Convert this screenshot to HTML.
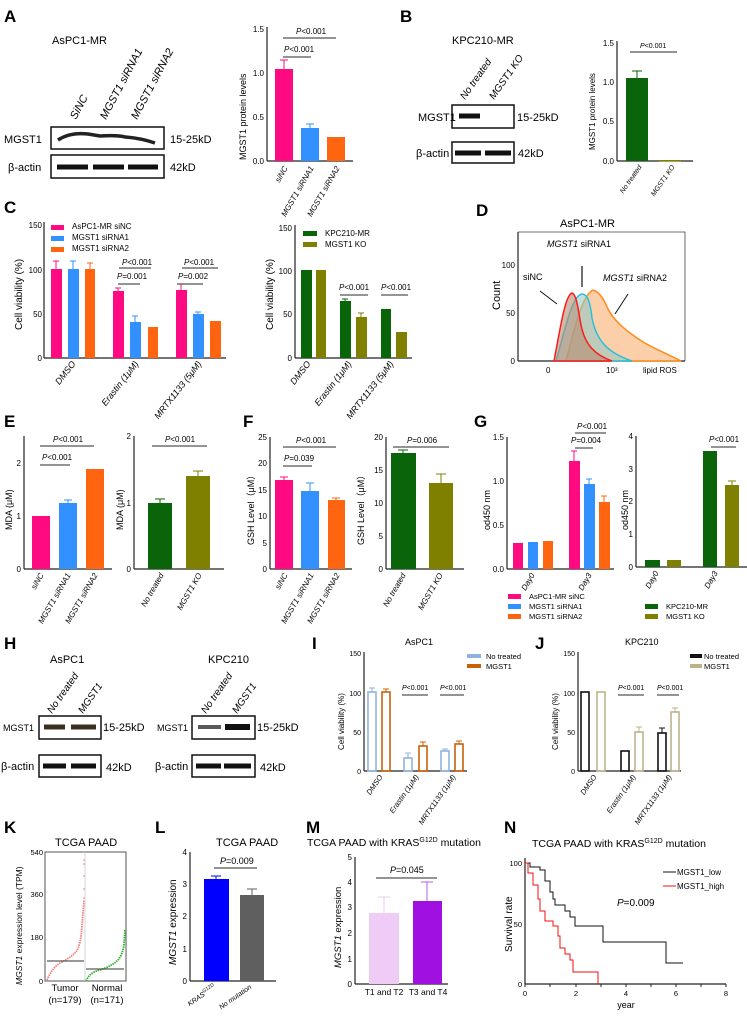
<!DOCTYPE html>
<html><head><meta charset="utf-8"><style>
html,body{margin:0;padding:0;background:#fff;}
svg{display:block;font-family:"Liberation Sans",sans-serif;}
.t{font-size:8px;}
.b{font-weight:bold;font-size:17px;}
.h{font-size:11px;}
.ax{stroke:#222;stroke-width:1.2;fill:none;}
.p{stroke:#555;stroke-width:1.2;}
.e{stroke-width:1;fill:none;}
</style></head><body>
<svg width="747" height="1016" viewBox="0 0 747 1016" xmlns="http://www.w3.org/2000/svg">
<!-- A -->
<text x="4" y="22" class="b">A</text>
<text x="52" y="44" class="h">AsPC1-MR</text>
<g class="h" font-style="italic" font-size="10">
<text transform="translate(76,120) rotate(-62)">SiNC</text>
<text transform="translate(106,120) rotate(-62)">MGST1 siRNA1</text>
<text transform="translate(137,120) rotate(-62)">MGST1 siRNA2</text>
</g>
<rect x="51" y="127" width="113" height="22" fill="#fff" stroke="#111" stroke-width="1.5"/>
<path d="M58,140 Q70,132 88,134 L100,136 Q118,135 125,137 Q140,138 155,143" stroke="#222" stroke-width="3.5" fill="none"/>
<rect x="51" y="155" width="113" height="23" fill="#fff" stroke="#111" stroke-width="1.5"/>
<path d="M57,167 H88 M93,167 H124 M128,167 H158" stroke="#111" stroke-width="5"/>
<text x="4" y="143" class="h">MGST1</text><text x="8" y="171" class="h">β-actin</text>
<text x="170" y="143" class="h">15-25kD</text><text x="170" y="171" class="h">42kD</text>
<line x1="267" y1="27" x2="267" y2="161" class="ax"/><line x1="267" y1="161" x2="353" y2="161" class="ax"/>
<g class="t" text-anchor="end"><text x="264" y="32">1.5</text><text x="264" y="76">1.0</text><text x="264" y="120">0.5</text><text x="264" y="164">0.0</text></g>
<text transform="translate(246,160) rotate(-90)" font-size="9">MGST1 protein levels</text>
<rect x="275" y="69" width="18" height="92" fill="#FF0A80"/><path d="M284,69V60M280,60H288" class="e" stroke="#FF0A80"/>
<rect x="301" y="128" width="18" height="33" fill="#3391FF"/><path d="M310,128V124M306,124H314" class="e" stroke="#3391FF"/>
<rect x="327" y="137" width="18" height="24" fill="#FF6410"/>
<line x1="283" y1="38" x2="336" y2="38" class="p"/><text x="296" y="34" class="t"><tspan font-style="italic">P</tspan>&lt;0.001</text>
<line x1="283" y1="57" x2="311" y2="57" class="p"/><text x="284" y="52" class="t"><tspan font-style="italic">P</tspan>&lt;0.001</text>
<g class="t" font-style="italic"><text transform="translate(288,168) rotate(-60)" text-anchor="end">siNC</text><text transform="translate(314,168) rotate(-60)" text-anchor="end">MGST1 siRNA1</text><text transform="translate(340,168) rotate(-60)" text-anchor="end">MGST1 siRNA2</text></g>
<!-- B -->
<text x="400" y="22" class="b">B</text>
<text x="452" y="44" class="h">KPC210-MR</text>
<g font-style="italic" font-size="10"><text transform="translate(465,100) rotate(-55)">No treated</text><text transform="translate(494,100) rotate(-55)">MGST1 KO</text></g>
<rect x="452" y="105" width="62" height="23" fill="#fff" stroke="#111" stroke-width="1.5"/>
<path d="M459,116 H480" stroke="#111" stroke-width="5"/>
<rect x="452" y="142" width="62" height="21" fill="#fff" stroke="#111" stroke-width="1.5"/>
<path d="M455,153 H481 M485,153 H511" stroke="#111" stroke-width="5"/>
<text x="418" y="121" class="h" font-size="10">MGST1</text><text x="416" y="157" class="h">β-actin</text>
<text x="517" y="121" class="h">15-25kD</text><text x="518" y="157" class="h">42kD</text>
<line x1="617" y1="41" x2="617" y2="161" class="ax"/><line x1="617" y1="161" x2="693" y2="161" class="ax"/>
<g class="t" text-anchor="end"><text x="614" y="46">1.5</text><text x="614" y="85">1.0</text><text x="614" y="124">0.5</text><text x="614" y="164">0.0</text></g>
<text transform="translate(595,150) rotate(-90)" font-size="8">MGST1 protein levels</text>
<rect x="626" y="78" width="22" height="83" fill="#0A640A"/><path d="M637,78V71M632,71H642" class="e" stroke="#0A640A"/>
<rect x="659" y="160" width="22" height="1.5" fill="#7F7F00"/>
<line x1="630" y1="52" x2="677" y2="52" class="p"/><text x="640" y="48" font-size="7"><tspan font-style="italic">P</tspan>&lt;0.001</text>
<g font-size="7" font-style="italic"><text transform="translate(642,167) rotate(-55)" text-anchor="end">No treated</text><text transform="translate(675,167) rotate(-55)" text-anchor="end">MGST1 KO</text></g>
<!-- C -->
<text x="4" y="213" class="b">C</text>
<line x1="44" y1="222" x2="44" y2="358" class="ax"/><line x1="44" y1="358" x2="226" y2="358" class="ax"/>
<g class="t" text-anchor="end"><text x="42" y="228">150</text><text x="42" y="273">100</text><text x="42" y="317">50</text><text x="42" y="361">0</text></g>
<text transform="translate(22,330) rotate(-90)" font-size="10">Cell viability (%)</text>
<rect x="51" y="225" width="13" height="5" fill="#FF0A80"/><rect x="51" y="236" width="13" height="5" fill="#3391FF"/><rect x="51" y="247" width="13" height="5" fill="#FF6410"/>
<g class="t"><text x="72" y="229">AsPC1-MR siNC</text><text x="72" y="240">MGST1 siRNA1</text><text x="72" y="251">MGST1 siRNA2</text></g>
<g>
<rect x="51" y="269" width="11" height="89" fill="#FF0A80"/><rect x="68" y="269" width="11" height="89" fill="#3391FF"/><rect x="85" y="269" width="10" height="89" fill="#FF6410"/>
<path d="M56,269V261M53,261H59" class="e" stroke="#FF0A80"/><path d="M73,269V261M70,261H76" class="e" stroke="#3391FF"/><path d="M90,269V263M87,263H93" class="e" stroke="#FF6410"/>
<rect x="113" y="291" width="11" height="67" fill="#FF0A80"/><rect x="130" y="322" width="11" height="36" fill="#3391FF"/><rect x="148" y="327" width="10" height="31" fill="#FF6410"/>
<path d="M118,291V288M115,288H121" class="e" stroke="#FF0A80"/><path d="M135,322V316M132,316H138" class="e" stroke="#3391FF"/>
<rect x="176" y="290" width="11" height="68" fill="#FF0A80"/><rect x="193" y="314" width="11" height="44" fill="#3391FF"/><rect x="210" y="321" width="11" height="37" fill="#FF6410"/>
<path d="M181,290V284M178,284H184" class="e" stroke="#FF0A80"/><path d="M198,314V312M195,312H201" class="e" stroke="#3391FF"/>
</g>
<line x1="119" y1="268" x2="151" y2="268" class="p"/><text x="122" y="265" class="t"><tspan font-style="italic">P</tspan>&lt;0.001</text>
<line x1="118" y1="284" x2="140" y2="284" class="p"/><text x="117" y="279" class="t"><tspan font-style="italic">P</tspan>=0.001</text>
<line x1="182" y1="268" x2="218" y2="268" class="p"/><text x="184" y="265" class="t"><tspan font-style="italic">P</tspan>&lt;0.001</text>
<line x1="177" y1="284" x2="203" y2="284" class="p"/><text x="178" y="279" class="t"><tspan font-style="italic">P</tspan>=0.002</text>
<g font-size="9" font-style="italic" text-anchor="end"><text transform="translate(76,364) rotate(-52)">DMSO</text><text transform="translate(139,364) rotate(-52)">Erastin (1μM)</text><text transform="translate(202,364) rotate(-52)">MRTX1133 (5μM)</text></g>
<line x1="295" y1="225" x2="295" y2="358" class="ax"/><line x1="295" y1="358" x2="412" y2="358" class="ax"/>
<g class="t" text-anchor="end"><text x="292" y="231">150</text><text x="292" y="274">100</text><text x="292" y="317">50</text><text x="292" y="361">0</text></g>
<text transform="translate(273,330) rotate(-90)" font-size="10">Cell viability (%)</text>
<rect x="303" y="231" width="14" height="5" fill="#0A640A"/><rect x="303" y="242" width="14" height="5" fill="#7F7F00"/>
<g class="t"><text x="325" y="236">KPC210-MR</text><text x="325" y="247">MGST1 KO</text></g>
<rect x="301" y="270" width="11" height="88" fill="#0A640A"/><rect x="316" y="270" width="10" height="88" fill="#7F7F00"/>
<rect x="340" y="301" width="11" height="57" fill="#0A640A"/><rect x="356" y="317" width="11" height="41" fill="#7F7F00"/>
<path d="M345,301V299M342,299H348" class="e" stroke="#0A640A"/><path d="M361,317V313M358,313H364" class="e" stroke="#7F7F00"/>
<rect x="381" y="309" width="10" height="49" fill="#0A640A"/><rect x="396" y="332" width="11" height="26" fill="#7F7F00"/>
<line x1="340" y1="295" x2="368" y2="295" class="p"/><text x="339" y="290" class="t"><tspan font-style="italic">P</tspan>&lt;0.001</text>
<line x1="381" y1="295" x2="408" y2="295" class="p"/><text x="381" y="290" class="t"><tspan font-style="italic">P</tspan>&lt;0.001</text>
<g font-size="9" font-style="italic" text-anchor="end"><text transform="translate(311,364) rotate(-52)">DMSO</text><text transform="translate(352,364) rotate(-52)">Erastin (1μM)</text><text transform="translate(394,364) rotate(-52)">MRTX1133 (5μM)</text></g>
<!-- D -->
<text x="476" y="216" class="b">D</text>
<text x="560" y="227" class="h">AsPC1-MR</text>
<path d="M518,232 H685 V361" fill="none" stroke="#444" stroke-width="0.8"/>
<line x1="518" y1="232" x2="518" y2="361" class="ax" stroke-width="0.8"/><line x1="518" y1="361" x2="685" y2="361" class="ax" stroke-width="0.8"/>
<g class="t" text-anchor="end" font-size="9"><text x="515" y="268">100</text><text x="515" y="316">50</text><text x="515" y="364">0</text></g>
<text transform="translate(500,310) rotate(-90)" font-size="11">Count</text>
<path d="M565,361 C570,330 575,300 584,294 C590,293 595,300 598,310 C603,325 610,338 620,345 C630,352 640,356 665,360 L680,361 Z" fill="rgba(255,140,30,0.0)"/>
<path d="M566,361 C574,330 582,295 593,290 C600,292 604,300 607,307 C613,320 625,330 640,340 C652,348 664,352 681,361 Z" fill="#F9C79A" stroke="#FF8C1A" stroke-width="1.5" fill-opacity="0.85"/>
<path d="M556,361 C565,330 572,295 582,294 C587,294 590,300 592,318 C596,338 605,352 632,361 Z" fill="#8CC9C9" fill-opacity="0.55" stroke="#2CC0D8" stroke-width="1.5"/>
<path d="M554,361 C560,330 565,295 572,293 C577,295 578,310 581,325 C585,345 595,355 612,361 Z" fill="#B58A72" fill-opacity="0.6" stroke="#FF1A1A" stroke-width="1.5"/>
<text x="547" y="247" font-size="9"><tspan font-style="italic">MGST1</tspan> siRNA1</text>
<text x="523" y="280" font-size="9">siNC</text>
<text x="603" y="281" font-size="9"><tspan font-style="italic">MGST1</tspan> siRNA2</text>
<path d="M540,291 L557,304" stroke="#111" stroke-width="1"/><path d="M582,266 L582,287" stroke="#111" stroke-width="1.2"/><path d="M628,294 L615,314" stroke="#111" stroke-width="1"/>
<text x="546" y="373" class="t">0</text><text x="606" y="373" class="t">10³</text><text x="643" y="373" class="t" font-size="9">lipid ROS</text>
<!-- E -->
<text x="4" y="427" class="b">E</text>
<line x1="24" y1="436" x2="24" y2="569" class="ax"/><line x1="24" y1="569" x2="112" y2="569" class="ax"/>
<g class="t" text-anchor="end"><text x="21" y="466">2</text><text x="21" y="519">1</text><text x="21" y="572">0</text></g>
<text transform="translate(12,530) rotate(-90)" font-size="9">MDA (μM)</text>
<rect x="32" y="516" width="18" height="53" fill="#FF0A80"/><rect x="59" y="503" width="18" height="66" fill="#3391FF"/><rect x="86" y="469" width="18" height="100" fill="#FF6410"/>
<path d="M68,503V500M64,500H72" class="e" stroke="#3391FF"/>
<line x1="40" y1="446" x2="94" y2="446" class="p"/><text x="53" y="442" class="t"><tspan font-style="italic">P</tspan>&lt;0.001</text>
<line x1="40" y1="465" x2="70" y2="465" class="p"/><text x="42" y="460" class="t"><tspan font-style="italic">P</tspan>&lt;0.001</text>
<g class="t" font-style="italic" text-anchor="end"><text transform="translate(44,575) rotate(-60)">siNC</text><text transform="translate(71,575) rotate(-60)">MGST1 siRNA1</text><text transform="translate(98,575) rotate(-60)">MGST1 siRNA2</text></g>
<line x1="134" y1="436" x2="134" y2="569" class="ax"/><line x1="134" y1="569" x2="224" y2="569" class="ax"/>
<g class="t" text-anchor="end"><text x="131" y="439">2</text><text x="131" y="506">1</text><text x="131" y="572">0</text></g>
<text transform="translate(123,530) rotate(-90)" font-size="9">MDA (μM)</text>
<rect x="148" y="503" width="24" height="66" fill="#0A640A"/><rect x="186" y="476" width="24" height="93" fill="#7F7F00"/>
<path d="M160,503V499M155,499H165" class="e" stroke="#0A640A"/><path d="M198,476V471M193,471H203" class="e" stroke="#7F7F00"/>
<line x1="152" y1="446" x2="207" y2="446" class="p"/><text x="165" y="442" class="t"><tspan font-style="italic">P</tspan>&lt;0.001</text>
<g class="t" font-style="italic" text-anchor="end"><text transform="translate(164,575) rotate(-60)">No treated</text><text transform="translate(202,575) rotate(-60)">MGST1 KO</text></g>
<!-- F -->
<text x="243" y="427" class="b">F</text>
<line x1="270" y1="437" x2="270" y2="569" class="ax"/><line x1="270" y1="569" x2="352" y2="569" class="ax"/>
<g class="t" text-anchor="end"><text x="267" y="440">25</text><text x="267" y="466">20</text><text x="267" y="493">15</text><text x="267" y="519">10</text><text x="267" y="546">5</text><text x="267" y="572">0</text></g>
<text transform="translate(254,545) rotate(-90)" font-size="9">GSH Level（μM）</text>
<rect x="275" y="480" width="18" height="89" fill="#FF0A80"/><rect x="301" y="491" width="18" height="78" fill="#3391FF"/><rect x="328" y="500" width="17" height="69" fill="#FF6410"/>
<path d="M284,480V477M280,477H288" class="e" stroke="#FF0A80"/><path d="M310,491V483M306,483H314" class="e" stroke="#3391FF"/><path d="M336,500V498M332,498H340" class="e" stroke="#FF6410"/>
<line x1="283" y1="447" x2="336" y2="447" class="p"/><text x="296" y="443" class="t"><tspan font-style="italic">P</tspan>&lt;0.001</text>
<line x1="283" y1="466" x2="312" y2="466" class="p"/><text x="284" y="461" class="t"><tspan font-style="italic">P</tspan>=0.039</text>
<g class="t" font-style="italic" text-anchor="end"><text transform="translate(288,575) rotate(-60)">siNC</text><text transform="translate(314,575) rotate(-60)">MGST1 siRNA1</text><text transform="translate(340,575) rotate(-60)">MGST1 siRNA2</text></g>
<line x1="386" y1="437" x2="386" y2="569" class="ax"/><line x1="386" y1="569" x2="464" y2="569" class="ax"/>
<g class="t" text-anchor="end"><text x="383" y="440">20</text><text x="383" y="473">15</text><text x="383" y="506">10</text><text x="383" y="539">5</text><text x="383" y="572">0</text></g>
<text transform="translate(364,545) rotate(-90)" font-size="9">GSH Level（μM）</text>
<rect x="391" y="453" width="25" height="116" fill="#0A640A"/><rect x="429" y="483" width="24" height="86" fill="#7F7F00"/>
<path d="M403,453V450M398,450H408" class="e" stroke="#0A640A"/><path d="M441,483V474M436,474H446" class="e" stroke="#7F7F00"/>
<line x1="393" y1="447" x2="449" y2="447" class="p"/><text x="407" y="443" class="t"><tspan font-style="italic">P</tspan>=0.006</text>
<g class="t" font-style="italic" text-anchor="end"><text transform="translate(406,575) rotate(-60)">No treated</text><text transform="translate(443,575) rotate(-60)">MGST1 KO</text></g>
<!-- G -->
<text x="474" y="427" class="b">G</text>
<line x1="507" y1="437" x2="507" y2="569" class="ax"/><line x1="507" y1="569" x2="614" y2="569" class="ax"/>
<g class="t" text-anchor="end"><text x="504" y="440">1.5</text><text x="504" y="484">1.0</text><text x="504" y="528">0.5</text><text x="504" y="572">0.0</text></g>
<text transform="translate(490,530) rotate(-90)" font-size="9">od450 nm</text>
<rect x="513" y="543" width="10" height="26" fill="#FF0A80"/><rect x="528" y="542" width="10" height="27" fill="#3391FF"/><rect x="543" y="541" width="10" height="28" fill="#FF6410"/>
<rect x="569" y="461" width="11" height="108" fill="#FF0A80"/><rect x="584" y="484" width="11" height="85" fill="#3391FF"/><rect x="599" y="502" width="11" height="67" fill="#FF6410"/>
<path d="M574,461V451M571,451H577" class="e" stroke="#FF0A80"/><path d="M589,484V479M586,479H592" class="e" stroke="#3391FF"/><path d="M604,502V496M601,496H607" class="e" stroke="#FF6410"/>
<line x1="575" y1="433" x2="606" y2="433" class="p"/><text x="577" y="429" class="t"><tspan font-style="italic">P</tspan>&lt;0.001</text>
<line x1="575" y1="448" x2="593" y2="448" class="p"/><text x="571" y="443" class="t"><tspan font-style="italic">P</tspan>=0.004</text>
<g class="t" font-style="italic" text-anchor="end"><text transform="translate(535,575) rotate(-60)">Day0</text><text transform="translate(592,575) rotate(-60)">Day3</text></g>
<rect x="508" y="594" width="13" height="5" fill="#FF0A80"/><rect x="508" y="604" width="13" height="5" fill="#3391FF"/><rect x="508" y="614" width="13" height="5" fill="#FF6410"/>
<g font-size="7.5"><text x="529" y="599">AsPC1-MR siNC</text><text x="529" y="609">MGST1 siRNA1</text><text x="529" y="619">MGST1 siRNA2</text></g>
<rect x="645" y="604" width="13" height="5" fill="#0A640A"/><rect x="645" y="614" width="13" height="5" fill="#7F7F00"/>
<g font-size="7.5"><text x="666" y="609">KPC210-MR</text><text x="666" y="619">MGST1 KO</text></g>
<line x1="636" y1="436" x2="636" y2="567" class="ax"/><line x1="636" y1="567" x2="747" y2="567" class="ax"/>
<g class="t" text-anchor="end"><text x="633" y="439">4</text><text x="633" y="472">3</text><text x="633" y="504">2</text><text x="633" y="537">1</text><text x="633" y="570">0</text></g>
<text transform="translate(628,530) rotate(-90)" font-size="9">od450 nm</text>
<rect x="645" y="560" width="15" height="7" fill="#0A640A"/><rect x="667" y="560" width="14" height="7" fill="#7F7F00"/>
<rect x="703" y="451" width="14" height="116" fill="#0A640A"/><rect x="725" y="485" width="14" height="82" fill="#7F7F00"/>
<path d="M732,485V481M728,481H736" class="e" stroke="#7F7F00"/>
<line x1="711" y1="447" x2="736" y2="447" class="p"/><text x="709" y="442" class="t"><tspan font-style="italic">P</tspan>&lt;0.001</text>
<g class="t" font-style="italic" text-anchor="end"><text transform="translate(659,573) rotate(-60)">Day0</text><text transform="translate(718,573) rotate(-60)">Day3</text></g>
<!-- H -->
<text x="4" y="649" class="b">H</text>
<text x="50" y="663" class="h">AsPC1</text><text x="208" y="663" class="h">KPC210</text>
<g font-size="10" font-style="italic"><text transform="translate(52,714) rotate(-55)">No treated</text><text transform="translate(83,714) rotate(-55)">MGST1</text>
<text transform="translate(206,714) rotate(-55)">No treated</text><text transform="translate(237,714) rotate(-55)">MGST1</text></g>
<rect x="39" y="716" width="62" height="23" fill="#fff" stroke="#111" stroke-width="1.5"/><path d="M44,727 H65 M71,727 H96" stroke="#3a3020" stroke-width="5"/>
<rect x="39" y="755" width="62" height="22" fill="#fff" stroke="#111" stroke-width="1.5"/><path d="M43,766 H66 M71,766 H96" stroke="#111" stroke-width="5"/>
<rect x="192" y="716" width="63" height="23" fill="#fff" stroke="#111" stroke-width="1.5"/><path d="M198,727 H221 M225,727 H250" stroke="#5a5a5a" stroke-width="4"/><path d="M225,727 H250" stroke="#111" stroke-width="6"/>
<rect x="192" y="755" width="63" height="22" fill="#fff" stroke="#111" stroke-width="1.5"/><path d="M196,766 H221 M224,766 H251" stroke="#111" stroke-width="5"/>
<g font-size="9"><text x="3" y="731">MGST1</text><text x="157" y="731">MGST1</text></g>
<g class="h"><text x="1" y="770">β-actin</text><text x="155" y="770">β-actin</text><text x="103" y="731">15-25kD</text><text x="257" y="731">15-25kD</text><text x="106" y="771">42kD</text><text x="260" y="771">42kD</text></g>
<!-- I -->
<text x="312" y="649" class="b">I</text>
<text x="405" y="645" font-size="9">AsPC1</text>
<line x1="364" y1="652" x2="364" y2="771" class="ax"/><line x1="364" y1="771" x2="467" y2="771" class="ax"/>
<g font-size="7" text-anchor="end"><text x="361" y="656">150</text><text x="361" y="696">100</text><text x="361" y="735">50</text><text x="361" y="774">0</text></g>
<text transform="translate(344,750) rotate(-90)" font-size="8">Cell viability (%)</text>
<g fill="none" stroke-width="1.6">
<rect x="368" y="692" width="8" height="79" stroke="#8FB3E0"/><rect x="382" y="692" width="8" height="79" stroke="#C8600A"/>
<rect x="404" y="758" width="8" height="13" stroke="#8FB3E0"/><rect x="419" y="746" width="8" height="25" stroke="#C8600A"/>
<rect x="441" y="751" width="8" height="20" stroke="#8FB3E0"/><rect x="455" y="744" width="8" height="27" stroke="#C8600A"/>
</g>
<path d="M372,692V688M369,688H375 M408,758V753M405,753H411 M445,751V749M442,749H448" class="e" stroke="#8FB3E0"/>
<path d="M386,692V689M383,689H389 M423,746V742M420,742H426 M459,744V741M456,741H462" class="e" stroke="#C8600A"/>
<line x1="402" y1="695" x2="428" y2="695" class="p"/><text x="402" y="690" font-size="7"><tspan font-style="italic">P</tspan>&lt;0.001</text>
<line x1="440" y1="695" x2="464" y2="695" class="p"/><text x="440" y="690" font-size="7"><tspan font-style="italic">P</tspan>&lt;0.001</text>
<rect x="467" y="654" width="14" height="4" fill="#8FB3E0"/><rect x="467" y="664" width="14" height="4" fill="#C8600A"/>
<g font-size="7.5"><text x="486" y="659">No treated</text><text x="486" y="669">MGST1</text></g>
<g font-size="7.5" font-style="italic" text-anchor="end"><text transform="translate(383,777) rotate(-55)">DMSO</text><text transform="translate(419,777) rotate(-55)">Erastin (1μM)</text><text transform="translate(456,777) rotate(-55)">MRTX1133 (1μM)</text></g>
<!-- J -->
<text x="535" y="649" class="b">J</text>
<text x="625" y="645" font-size="9">KPC210</text>
<line x1="578" y1="652" x2="578" y2="771" class="ax"/><line x1="578" y1="771" x2="681" y2="771" class="ax"/>
<g font-size="7" text-anchor="end"><text x="575" y="656">150</text><text x="575" y="696">100</text><text x="575" y="735">50</text><text x="575" y="774">0</text></g>
<text transform="translate(558,750) rotate(-90)" font-size="8">Cell viability (%)</text>
<g fill="none" stroke-width="1.6">
<rect x="581" y="692" width="8" height="79" stroke="#111"/><rect x="597" y="692" width="8" height="79" stroke="#BDB38A"/>
<rect x="621" y="751" width="8" height="20" stroke="#111"/><rect x="635" y="732" width="8" height="39" stroke="#BDB38A"/>
<rect x="658" y="733" width="8" height="38" stroke="#111"/><rect x="671" y="712" width="8" height="59" stroke="#BDB38A"/>
</g>
<path d="M662,733V728M659,728H665" class="e" stroke="#111"/><path d="M639,732V727M636,727H642 M675,712V708M672,708H678" class="e" stroke="#BDB38A"/>
<line x1="618" y1="695" x2="644" y2="695" class="p"/><text x="618" y="690" font-size="7"><tspan font-style="italic">P</tspan>&lt;0.001</text>
<line x1="657" y1="695" x2="679" y2="695" class="p"/><text x="657" y="690" font-size="7"><tspan font-style="italic">P</tspan>&lt;0.001</text>
<rect x="690" y="654" width="12" height="4" fill="#111"/><rect x="690" y="664" width="12" height="4" fill="#BDB38A"/>
<g font-size="7.5"><text x="704" y="659">No treated</text><text x="704" y="669">MGST1</text></g>
<g font-size="7.5" font-style="italic" text-anchor="end"><text transform="translate(597,777) rotate(-55)">DMSO</text><text transform="translate(636,777) rotate(-55)">Erastin (1μM)</text><text transform="translate(672,777) rotate(-55)">MRTX1133 (1μM)</text></g>
<!-- K -->
<text x="4" y="833" class="b">K</text>
<text x="55" y="846" font-size="11">TCGA PAAD</text>
<rect x="45" y="852" width="81" height="129" fill="none" stroke="#555" stroke-width="1"/>
<line x1="85" y1="852" x2="85" y2="981" stroke="#ccc" stroke-width="0.8"/>
<g font-size="7.5" text-anchor="end"><text x="43" y="855">540</text><text x="43" y="897">360</text><text x="43" y="940">180</text><text x="43" y="984">0</text></g>
<text transform="translate(22,985) rotate(-90)" font-size="8.5"><tspan font-style="italic">MGST1</tspan> expression level (TPM)</text>
<path d="M47,980 Q52,968 60,963 Q70,958 76,952 Q81,945 82,925 L84,900" fill="none" stroke="#F08080" stroke-width="1.8" stroke-dasharray="1.5 0.8"/>
<g fill="#F08080"><circle cx="84" cy="898" r="0.8"/><circle cx="84" cy="889" r="0.8"/><circle cx="84" cy="876" r="0.8"/><circle cx="84" cy="864" r="0.8"/><circle cx="84" cy="860" r="0.8"/></g>
<path d="M86,981 Q90,972 100,970 Q112,966 118,960 Q123,954 124,944 L125,930" fill="none" stroke="#2DB52D" stroke-width="1.8" stroke-dasharray="1.5 0.8"/>
<line x1="47" y1="961" x2="84" y2="961" stroke="#333" stroke-width="1"/><line x1="86" y1="969" x2="124" y2="969" stroke="#333" stroke-width="1"/>
<g font-size="9.5" text-anchor="middle"><text x="65" y="991">Tumor</text><text x="65" y="1003">(n=179)</text><text x="107" y="991">Normal</text><text x="107" y="1003">(n=171)</text></g>
<!-- L -->
<text x="155" y="833" class="b">L</text>
<text x="216" y="846" font-size="11">TCGA PAAD</text>
<line x1="190" y1="852" x2="190" y2="981" class="ax"/><line x1="190" y1="981" x2="276" y2="981" class="ax"/>
<g font-size="8" text-anchor="end"><text x="187" y="855">4</text><text x="187" y="887">3</text><text x="187" y="919">2</text><text x="187" y="952">1</text><text x="187" y="984">0</text></g>
<text transform="translate(176,965) rotate(-90)" font-size="10"><tspan font-style="italic">MGST1</tspan> expression</text>
<rect x="204" y="879" width="25" height="102" fill="#0000FF"/><rect x="240" y="895" width="24" height="86" fill="#5F5F5F"/>
<path d="M216,879V876M211,876H221" class="e" stroke="#0000FF"/><path d="M252,895V889M247,889H257" class="e" stroke="#5F5F5F"/>
<line x1="214" y1="868" x2="257" y2="868" class="p"/><text x="220" y="864" font-size="9"><tspan font-style="italic">P</tspan>=0.009</text>
<g font-size="7" font-style="italic" text-anchor="end"><text transform="translate(216,988) rotate(-35)">KRAS<tspan font-size="5" dy="-3">G12D</tspan></text><text transform="translate(252,988) rotate(-35)">No mutation</text></g>
<!-- M -->
<text x="306" y="833" class="b">M</text>
<text x="307" y="846" font-size="10.5">TCGA PAAD with KRAS<tspan font-size="7" dy="-4">G12D</tspan><tspan dy="4"> mutation</tspan></text>
<line x1="355" y1="857" x2="355" y2="984" class="ax"/><line x1="355" y1="984" x2="448" y2="984" class="ax"/>
<g font-size="8" text-anchor="end"><text x="352" y="860">5</text><text x="352" y="885">4</text><text x="352" y="910">3</text><text x="352" y="936">2</text><text x="352" y="962">1</text><text x="352" y="987">0</text></g>
<text transform="translate(341,968) rotate(-90)" font-size="9.5"><tspan font-style="italic">MGST1</tspan> expression</text>
<rect x="369" y="913" width="30" height="71" fill="#EECCF5"/><rect x="413" y="901" width="29" height="83" fill="#A010E0"/>
<path d="M384,913V897M378,897H390" class="e" stroke="#EECCF5" stroke-width="1.5"/><path d="M427,901V882M421,882H433" class="e" stroke="#B060E8" stroke-width="1.5"/>
<line x1="376" y1="878" x2="437" y2="878" class="p"/><text x="390" y="873" font-size="9"><tspan font-style="italic">P</tspan>=0.045</text>
<g font-size="8.5" text-anchor="middle"><text x="384" y="995">T1 and T2</text><text x="428" y="995">T3 and T4</text></g>
<!-- N -->
<text x="504" y="833" class="b">N</text>
<text x="532" y="847" font-size="10.5">TCGA PAAD with KRAS<tspan font-size="7" dy="-4">G12D</tspan><tspan dy="4"> mutation</tspan></text>
<line x1="525" y1="858" x2="525" y2="984" class="ax"/><line x1="525" y1="984" x2="726" y2="984" class="ax"/>
<path d="M525,984v3M550,984v3M576,984v3M601,984v3M626,984v3M651,984v3M676,984v3M701,984v3M726,984v3" stroke="#222"/>
<g font-size="7.5" text-anchor="end"><text x="522" y="866">100</text><text x="522" y="927">50</text><text x="522" y="987">0</text></g>
<g font-size="7.5" text-anchor="middle"><text x="525" y="996">0</text><text x="576" y="996">2</text><text x="626" y="996">4</text><text x="676" y="996">6</text><text x="726" y="996">8</text></g>
<text x="626" y="1008" font-size="9" text-anchor="middle">year</text>
<text transform="translate(512,952) rotate(-90)" font-size="10">Survival rate</text>
<path d="M525,863 H530 V867 H540 V870 H545 V881 H550 V892 H553 V899 H555 V905 H565 V911 H570 V917 H575 V926 H603 V942 H666 V963 H683" fill="none" stroke="#111" stroke-width="1"/>
<path d="M525,863 H528 V873 H533 V885 H538 V899 H540 V911 H545 V921 H553 V926 H558 V936 H560 V948 H565 V954 H570 V960 H573 V972 H598 V984" fill="none" stroke="#F01010" stroke-width="1"/>
<line x1="663" y1="872" x2="676" y2="872" stroke="#111"/><line x1="663" y1="886" x2="676" y2="886" stroke="#F01010"/>
<g font-size="8"><text x="677" y="875">MGST1_low</text><text x="677" y="889">MGST1_high</text></g>
<text x="617" y="906" font-size="10"><tspan font-style="italic">P</tspan>=0.009</text>
</svg>
</body></html>
